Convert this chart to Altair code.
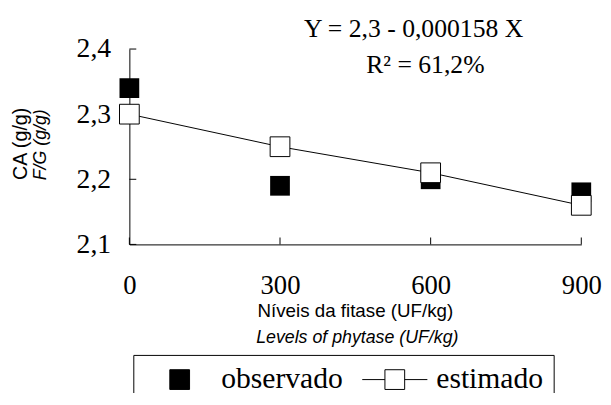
import altair as alt
import pandas as pd

# ---- data ----
niveis = [0, 300, 600, 900]
observado = [2.34, 2.19, 2.20, 2.18]
estimado = [2.30, 2.25, 2.21, 2.16]
series = ["observado", "estimado"]
x_ticks = [0, 300, 600, 900]
y_ticks = [2.1, 2.2, 2.3, 2.4]
equation = "Y = 2,3 - 0,000158 X"
r2_text = "R² = 61,2%"
y_title = ["CA (g/g)", "F/G (g/g)"]
x_title = ["Níveis da fitase (UF/kg)", "Levels of phytase (UF/kg)"]

W, H = 458, 198
SERIF = "Liberation Serif"
SANS = "Liberation Sans"

df = pd.DataFrame({"nivel": niveis, "obs": observado, "est": estimado})
xs = alt.Scale(domain=[0, 900], nice=False, zero=False)
ys = alt.Scale(domain=[2.1, 2.4], nice=False, zero=False)

x_axis = alt.Axis(values=x_ticks, ticks=False, tickSize=0, grid=False,
                  domainColor="black", domainWidth=1, labelFont=SERIF,
                  labelFontSize=27, labelColor="black", labelPadding=29,
                  labelFlush=False, labelOverlap=False, title="")
y_axis = alt.Axis(values=y_ticks, ticks=False, tickSize=0, grid=False,
                  domainColor="black", domainWidth=1, labelFont=SERIF,
                  labelFontSize=28, labelColor="black", labelPadding=19,
                  labelFlush=False, labelOverlap=False, title="",
                  labelExpr="replace(format(datum.value, '.1f'), '.', ',')")

base = alt.Chart(df)

x_tick_marks = alt.Chart(pd.DataFrame({"v": x_ticks})).mark_rule(
    color="black", strokeWidth=1).encode(
    x=alt.X("v:Q", scale=xs), y=alt.value(H), y2=alt.value(H - 7))
y_tick_marks = alt.Chart(pd.DataFrame({"v": y_ticks})).mark_rule(
    color="black", strokeWidth=1).encode(
    y=alt.Y("v:Q", scale=ys), x=alt.value(0), x2=alt.value(7))

line = base.mark_line(color="black", strokeWidth=1).encode(
    x=alt.X("nivel:Q", scale=xs, axis=x_axis),
    y=alt.Y("est:Q", scale=ys, axis=y_axis))

obs_pts = base.mark_square(size=400, color="black", filled=True, opacity=1).encode(
    x=alt.X("nivel:Q", scale=xs), y=alt.Y("obs:Q", scale=ys))

est_pts = base.mark_square(size=400, filled=True, fill="white", stroke="black",
                           strokeWidth=1, opacity=1).encode(
    x=alt.X("nivel:Q", scale=xs), y=alt.Y("est:Q", scale=ys))


def label(text, x, y, font, size, style="normal", angle=0):
    return alt.Chart(pd.DataFrame({"t": [text]})).mark_text(
        font=font, fontSize=size, fontStyle=style, angle=angle,
        align="center", baseline="middle", color="black").encode(
        text="t:N", x=alt.value(x), y=alt.value(y))


texts = [
    label(equation, 288, -20, SERIF, 26),
    label(r2_text, 300, 16, SERIF, 26),
    label(y_title[0], -110, 96, SANS, 20, angle=270),
    label(y_title[1], -89, 97, SANS, 18, style="italic", angle=270),
    label(x_title[0], 229, 266, SANS, 19),
    label(x_title[1], 231, 293, SANS, 18, style="italic"),
]

path_obs = "M-1,-1H1V1H-1Z"
path_est = "M-3.3,0H-1M1,0H3.3M-1,-1H1V1H-1Z"

legend_def = alt.Legend(title="", orient="none", legendX=4, legendY=310,
                        direction="horizontal", symbolSize=400,
                        symbolStrokeWidth=1, symbolStrokeColor="black",
                        symbolOpacity=1, symbolOffset=22,
                        labelFont=SERIF, labelFontSize=30,
                        labelColor="black", labelOffset=27, columnPadding=15,
                        padding=10, strokeColor="black", labelLimit=400)

legend_layer = alt.Chart(pd.DataFrame({"serie": series})).transform_filter(
    "false").mark_point(filled=True, strokeWidth=1, opacity=1, size=400).encode(
    fill=alt.Fill("serie:N", scale=alt.Scale(domain=series, range=["black", "white"]),
                  legend=legend_def),
    stroke=alt.Stroke("serie:N", scale=alt.Scale(domain=series, range=["black", "black"]),
                      legend=legend_def),
    shape=alt.Shape("serie:N", scale=alt.Scale(domain=series, range=[path_obs, path_est]),
                    legend=legend_def))

chart = alt.layer(x_tick_marks, y_tick_marks, line, obs_pts, est_pts,
                  *texts, legend_layer).properties(
    width=W, height=H,
    autosize=alt.AutoSizeParams(type="none"),
    padding={"left": 123, "top": 39, "right": 22, "bottom": 148},
).configure_view(strokeWidth=0)

chart.save("out.html", embed_options={"renderer": "svg", "actions": False})
